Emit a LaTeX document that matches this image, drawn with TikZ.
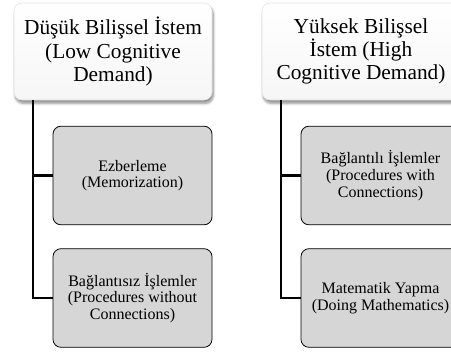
\documentclass[tikz,border=0pt]{standalone}
\usepackage{fontspec}
\setmainfont{Liberation Serif}
\usetikzlibrary{shadows.blur}
\definecolor{boxgray}{RGB}{214,214,214}
\tikzset{
    headbox/.style={rounded corners=6pt, draw=gray!25, top color=white, bottom color=gray!7,
        minimum width=148.5pt, minimum height=72.75pt, inner sep=0pt, align=center,
        font=\fontsize{16}{17.5}\selectfont,
        blur shadow={shadow xshift=1pt, shadow yshift=-2.5pt, shadow blur steps=8, shadow opacity=45}},
    subbox/.style={rounded corners=6pt, draw=black, line width=0.6pt, fill=boxgray,
        minimum width=119.25pt, minimum height=74pt, inner sep=0pt, align=center,
        font=\fontsize{12}{12.5}\selectfont},
    link/.style={line width=1.6pt, draw=black}
}
\begin{document}
\begin{tikzpicture}[x=0.75pt, y=-0.75pt]
            \useasboundingbox (0, 0) rectangle (451, 351);
            \clip (0, 0) rectangle (451, 351);
            \node[headbox] (low) at (113, 51.5) {Düşük Bilişsel İstem\\(Low Cognitive\\Demand)};
            \node[headbox] (high) at (361, 51.5) {Yüksek Bilişsel\\İstem (High\\Cognitive Demand)};
            \node[subbox] (memo) at (132.5, 175.5) {Ezberleme\\(Memorization)};
            \node[subbox] (procwo) at (132.5, 298) {Bağlantısız İşlemler\\(Procedures without\\Connections)};
            \node[subbox] (procw) at (380.5, 175.5) {Bağlantılı İşlemler\\(Procedures with\\Connections)};
            \node[subbox] (doing) at (380.5, 298) {Matematik Yapma\\(Doing Mathematics)};
            \foreach \top/\kid in {low/memo, low/procwo, high/procw, high/doing}
                \draw[link] ([xshift=14.25pt]\top.south west) |- (\kid.west);
        \end{tikzpicture}
\end{document}
